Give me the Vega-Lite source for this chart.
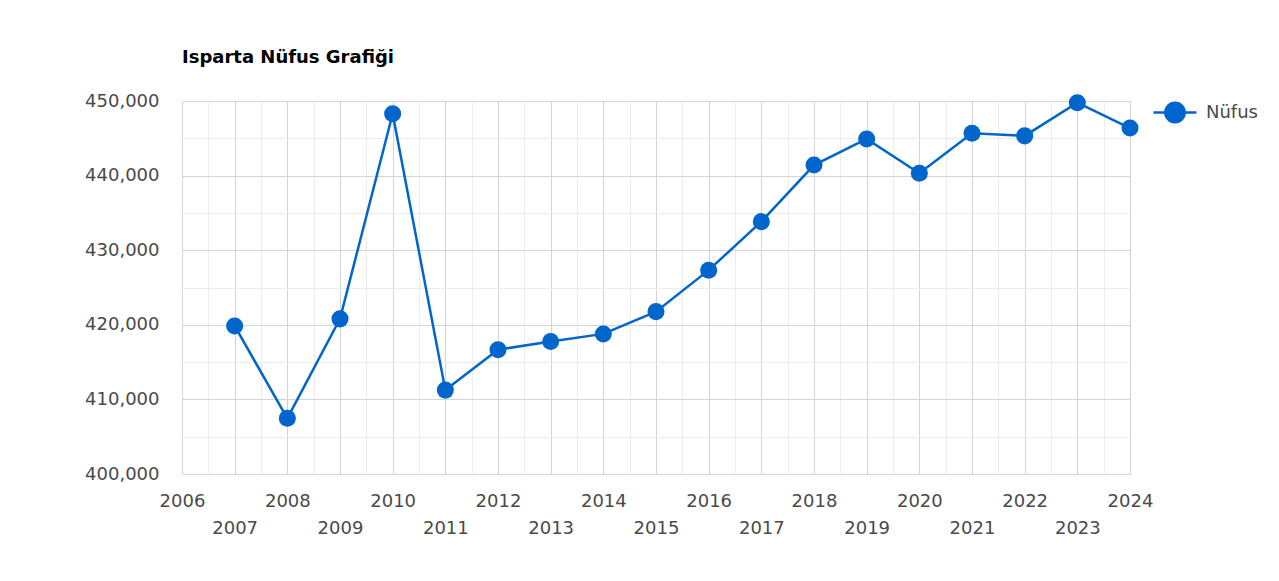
{
  "$schema": "https://vega.github.io/schema/vega-lite/v6.json",
  "width": 948,
  "height": 373,
  "autosize": {"type": "none"},
  "padding": {"left": 182, "top": 101, "right": 149, "bottom": 107},
  "background": "white",
  "title": {
    "text": "Isparta Nüfus Grafiği",
    "anchor": "start",
    "frame": "group",
    "font": "DejaVu Sans",
    "fontSize": 18,
    "fontWeight": "bold",
    "color": "#000000",
    "baseline": "alphabetic",
    "offset": 9
  },
  "data": {
    "values": [
      {"Yil": 2007, "Nufus": 419845},
      {"Yil": 2008, "Nufus": 407463},
      {"Yil": 2009, "Nufus": 420796},
      {"Yil": 2010, "Nufus": 448298},
      {"Yil": 2011, "Nufus": 411245},
      {"Yil": 2012, "Nufus": 416663},
      {"Yil": 2013, "Nufus": 417774},
      {"Yil": 2014, "Nufus": 418780},
      {"Yil": 2015, "Nufus": 421766},
      {"Yil": 2016, "Nufus": 427324},
      {"Yil": 2017, "Nufus": 433830},
      {"Yil": 2018, "Nufus": 441412},
      {"Yil": 2019, "Nufus": 444914},
      {"Yil": 2020, "Nufus": 440304},
      {"Yil": 2021, "Nufus": 445678},
      {"Yil": 2022, "Nufus": 445325},
      {"Yil": 2023, "Nufus": 449777},
      {"Yil": 2024, "Nufus": 446380}
    ]
  },
  "config": {
    "view": {"stroke": null},
    "axis": {
      "labelFont": "DejaVu Sans",
      "labelFontSize": 18,
      "labelColor": "#4a4a4a",
      "labelFlush": false,
      "labelOverlap": false,
      "labelBound": false,
      "ticks": false,
      "domain": false,
      "title": null
    }
  },
  "layer": [
    {
      "mark": {"type": "line", "color": "#0066cc", "strokeWidth": 2.5},
      "encoding": {
        "x": {
          "field": "Yil",
          "type": "quantitative",
          "scale": {"domain": [2006, 2024], "nice": false, "zero": false},
          "axis": {
            "orient": "top",
            "values": [2006.5, 2007.5, 2008.5, 2009.5, 2010.5, 2011.5, 2012.5, 2013.5, 2014.5, 2015.5, 2016.5, 2017.5, 2018.5, 2019.5, 2020.5, 2021.5, 2022.5, 2023.5],
            "grid": true,
            "gridColor": "#ececec",
            "gridWidth": 1,
            "labels": false
          }
        },
        "y": {
          "field": "Nufus",
          "type": "quantitative",
          "scale": {"domain": [400000, 450000], "nice": false, "zero": false},
          "axis": {
            "orient": "right",
            "values": [405000, 415000, 425000, 435000, 445000],
            "grid": true,
            "gridColor": "#ececec",
            "gridWidth": 1,
            "labels": false
          }
        },
        "color": {
          "datum": "Nüfus",
          "type": "nominal",
          "scale": {"range": ["#0066cc"]},
          "legend": {
            "orient": "none",
            "legendX": 970,
            "legendY": -11.5,
            "title": null,
            "padding": 0,
            "symbolType": "M-1,0L1,0M0.45,0A0.45,0.45,0,1,1,-0.45,0A0.45,0.45,0,1,1,0.45,0",
            "symbolSize": 1850,
            "symbolStrokeWidth": 2.5,
            "symbolFillColor": "#0066cc",
            "symbolStrokeColor": "#0066cc",
            "symbolOpacity": 1,
            "labelFont": "DejaVu Sans",
            "labelFontSize": 18,
            "labelColor": "#4a4a4a",
            "labelOffset": 8
          }
        }
      }
    },
    {
      "mark": {"type": "point", "filled": true, "size": 290, "opacity": 1, "color": "#0066cc"},
      "encoding": {
        "x": {
          "field": "Yil",
          "type": "quantitative",
          "axis": {
            "orient": "bottom",
            "values": [2006, 2007, 2008, 2009, 2010, 2011, 2012, 2013, 2014, 2015, 2016, 2017, 2018, 2019, 2020, 2021, 2022, 2023, 2024],
            "format": "d",
            "labelExpr": "datum.value % 2 == 0 ? datum.label : ['', datum.label]",
            "labelLineHeight": 27,
            "labelPadding": 18,
            "grid": true,
            "gridColor": "#d4d4d4",
            "gridWidth": 1
          }
        },
        "y": {
          "field": "Nufus",
          "type": "quantitative",
          "axis": {
            "orient": "left",
            "values": [400000, 410000, 420000, 430000, 440000, 450000],
            "format": ",d",
            "labelPadding": 23,
            "grid": true,
            "gridColor": "#d4d4d4",
            "gridWidth": 1
          }
        },
        "color": {"datum": "Nüfus", "type": "nominal"}
      }
    }
  ],
  "resolve": {"axis": {"x": "independent", "y": "independent"}}
}
